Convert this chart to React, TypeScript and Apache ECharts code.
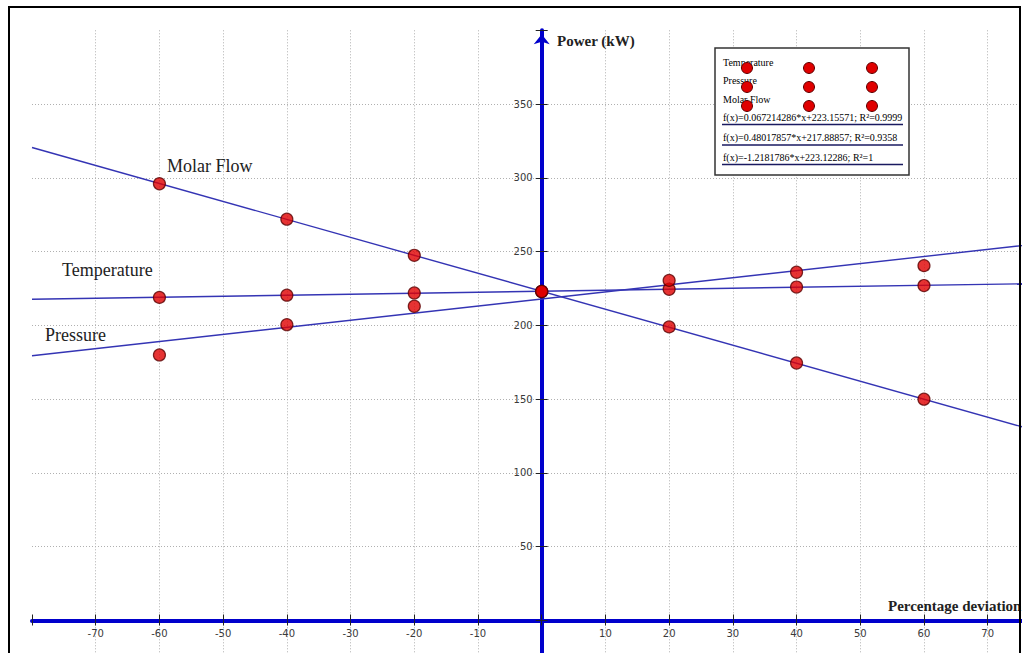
import React, { useEffect, useRef } from 'react';
import * as echarts from 'echarts';

const xValues = [-60, -40, -20, 0, 20, 40, 60];
const temperature = [219, 220.5, 222, 223, 224.5, 226, 227];
const pressure = [180, 200.5, 213, 223, 230.5, 236, 240.5];
const molarFlow = [296, 272, 247.5, 223, 199, 174.5, 150];
const seriesNames = ['Temperature', 'Pressure', 'Molar Flow'];
const seriesValues = [temperature, pressure, molarFlow];
const fitSlopes = [0.067214286, 0.48017857, -1.2181786];
const fitIntercepts = [223.15571, 217.88857, 223.12286];
const fitR2 = ['0.9999', '0.9358', '1'];
const fitRange = [-80, 80];
const xAxisTitle = 'Percentage deviation';
const yAxisTitle = 'Power (kW)';

const serif = '"Liberation Serif", "Times New Roman", serif';
const sans = '"DejaVu Sans", Verdana, sans-serif';

// plot geometry (pixels)
const L = 32; // x = -80
const R = -29.4; // x = 80 beyond right edge
const T = 30.3; // y = 400
const B = -41.3; // y = -50 below bottom edge
const X0 = 541.7; // pixel of x = 0
const Y0 = 620.5; // pixel of y = 0

export default function App() {
  const ref = useRef<HTMLDivElement>(null);
  useEffect(() => {
    document.body.style.margin = '0';
    const chart = echarts.init(ref.current!, null, { renderer: 'svg' });

    const scatterSeries = seriesNames.map((name, i) => ({
      name,
      type: 'scatter',
      xAxisIndex: 0,
      yAxisIndex: 0,
      data: xValues.map((x, j) => [x, seriesValues[i][j]]),
      symbol: 'circle',
      symbolSize: 12,
      itemStyle: { color: '#e00000', borderColor: '#5a0000', borderWidth: 1.2 },
      z: 5,
    }));
    const fitSeries = seriesNames.map((name, i) => ({
      name: name + ' fit',
      type: 'line',
      xAxisIndex: 0,
      yAxisIndex: 0,
      data: fitRange.map((x) => [x, fitSlopes[i] * x + fitIntercepts[i]]),
      showSymbol: false,
      symbol: 'none',
      lineStyle: { color: '#3434b4', width: 1.4 },
      z: 3,
    }));

    const formulas = seriesNames.map(
      (_, i) => `f(x)=${fitSlopes[i]}*x+${fitIntercepts[i]}; R²=${fitR2[i]}`
    );

    const legendRows = [68, 87, 106];
    const legendCols = [747, 809, 872];
    const legendGraphics: any[] = [
      {
        type: 'rect',
        shape: { x: 715, y: 48, width: 194, height: 127 },
        style: { fill: '#fff', stroke: '#333', lineWidth: 1.5 },
        z: 10,
      },
    ];
    seriesNames.forEach((name, i) => {
      legendGraphics.push({
        type: 'text',
        x: 723,
        y: [62, 80, 99][i],
        style: { text: name, font: `10px ${serif}`, fill: '#000', verticalAlign: 'middle' },
        z: 11,
      });
    });
    legendRows.forEach((cy) =>
      legendCols.forEach((cx) =>
        legendGraphics.push({
          type: 'circle',
          shape: { cx, cy, r: 5.5 },
          style: { fill: '#e00000', stroke: '#5a0000', lineWidth: 1 },
          z: 12,
        })
      )
    );
    formulas.forEach((f, i) => {
      const y = [117, 137.5, 157][i];
      legendGraphics.push({
        type: 'text',
        x: 723,
        y,
        style: { text: f, font: `10px ${serif}`, fill: '#000', verticalAlign: 'middle' },
        z: 11,
      });
      legendGraphics.push({
        type: 'line',
        shape: { x1: 722, y1: y + 7.5, x2: 903, y2: y + 7.5 },
        style: { stroke: '#1a1a60', lineWidth: 1.5 },
        z: 11,
      });
    });

    const labelTexts = [
      { text: 'Molar Flow', x: 167, y: 166 },
      { text: 'Temperature', x: 62, y: 270 },
      { text: 'Pressure', x: 45, y: 335 },
    ];

    const gridLine = {
      show: true,
      lineStyle: { color: '#b0b0b0', type: [1, 2], width: 1 },
      showMinLine: false,
      showMaxLine: false,
    };
    const tick = (inside: boolean, length: number) => ({
      show: true,
      inside,
      length,
      lineStyle: { color: '#222', width: 1 },
    });
    const hiddenX = (gridIndex: number) => ({
      type: 'value', gridIndex, min: -80, max: 80, interval: 10,
      axisLine: { show: false }, axisTick: { show: false }, axisLabel: { show: false }, splitLine: { show: false },
    });
    const hiddenY = (gridIndex: number) => ({
      type: 'value', gridIndex, min: -50, max: 400, interval: 50,
      axisLine: { show: false }, axisTick: { show: false }, axisLabel: { show: false }, splitLine: { show: false },
    });
    const blueLine = { show: true, onZero: false, lineStyle: { color: '#0000cc', width: 4 } };

    chart.setOption({
      animation: false,
      backgroundColor: '#fff',
      grid: [
        { left: L, right: R, top: T, bottom: B, outerBoundsMode: 'none', containLabel: false },
        { left: L, right: R, top: T, bottom: 653 - Y0, outerBoundsMode: 'none', containLabel: false },
        { left: L, right: R, top: Y0, bottom: B, outerBoundsMode: 'none', containLabel: false },
        { left: X0, right: R, top: T, bottom: B, outerBoundsMode: 'none', containLabel: false },
        { left: L, right: 1022 - X0, top: T, bottom: B, outerBoundsMode: 'none', containLabel: false },
      ],
      xAxis: [
        {
          type: 'value', gridIndex: 0, min: -80, max: 80, interval: 10,
          axisLine: { show: false }, axisTick: { show: false }, axisLabel: { show: false },
          splitLine: gridLine,
        },
        {
          type: 'value', gridIndex: 1, min: -80, max: 80, interval: 10, position: 'bottom',
          axisLine: blueLine,
          axisTick: tick(true, 6),
          axisLabel: {
            margin: 8,
            color: '#3a3a3a',
            fontFamily: sans,
            fontSize: 10,
            formatter: (v: number) => (v === 0 || v <= -80 || v >= 80 ? '' : String(v)),
          },
          splitLine: { show: false },
        },
        {
          type: 'value', gridIndex: 2, min: -80, max: 80, interval: 10, position: 'top',
          axisLine: { show: false, onZero: false },
          axisTick: tick(true, 5),
          axisLabel: { show: false },
          splitLine: { show: false },
        },
        hiddenX(3),
        hiddenX(4),
      ],
      yAxis: [
        {
          type: 'value', gridIndex: 0, min: -50, max: 400, interval: 50,
          axisLine: { show: false }, axisTick: { show: false }, axisLabel: { show: false },
          splitLine: gridLine,
        },
        hiddenY(1),
        hiddenY(2),
        {
          type: 'value', gridIndex: 3, min: -50, max: 400, interval: 50, position: 'left',
          axisLine: {
            ...blueLine,
            symbol: ['none', 'arrow'],
            symbolSize: [12, 10],
            symbolOffset: [0, -4],
          },
          axisTick: tick(false, 6),
          axisLabel: {
            margin: 9,
            color: '#3a3a3a',
            fontFamily: sans,
            fontSize: 10,
            formatter: (v: number) => (v <= 0 || v >= 400 ? '' : String(v)),
          },
          splitLine: { show: false },
        },
        {
          type: 'value', gridIndex: 4, min: -50, max: 400, interval: 50, position: 'right',
          axisLine: { show: false, onZero: false },
          axisTick: tick(false, 6),
          axisLabel: { show: false },
          splitLine: { show: false },
        },
      ],
      series: [...fitSeries, ...scatterSeries],
      graphic: [
        {
          type: 'rect',
          shape: { x: 9, y: 7, width: 1011, height: 700 },
          style: { fill: 'none', stroke: '#000', lineWidth: 2 },
          z: 20,
        },
        {
          type: 'text',
          x: 557,
          y: 41,
          style: { text: yAxisTitle, font: `bold 15px ${serif}`, fill: '#222', verticalAlign: 'middle' },
          z: 10,
        },
        {
          type: 'text',
          x: 888,
          y: 606,
          style: { text: xAxisTitle, font: `bold 15px ${serif}`, fill: '#222', verticalAlign: 'middle' },
          z: 10,
        },
        ...labelTexts.map((t) => ({
          type: 'text',
          x: t.x,
          y: t.y,
          style: { text: t.text, font: `18px ${serif}`, fill: '#222', verticalAlign: 'middle' },
          z: 10,
        })),
        ...legendGraphics,
      ],
    });
    return () => chart.dispose();
  }, []);
  return <div ref={ref} style={{ width: 1022, height: 653 }} />;
}
